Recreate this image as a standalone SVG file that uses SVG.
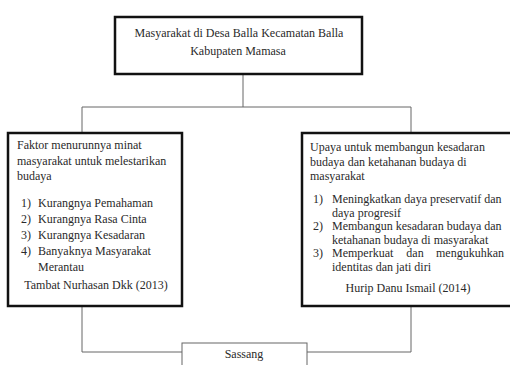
<svg xmlns="http://www.w3.org/2000/svg" width="510" height="365" viewBox="0 0 510 365">
<style>
text{font-family:"Liberation Serif","Times New Roman",serif;font-size:12px;fill:#2a2a2a}
.c{text-anchor:middle}
.e{text-anchor:end}
.box{fill:#fff;stroke:#111;stroke-width:2.5}
.thin{fill:#fff;stroke:#666;stroke-width:1}
.conn{fill:none;stroke:#666;stroke-width:1}
</style>
<rect width="510" height="365" fill="#fff"/>
<g id="connectors">
<path class="conn" d="M243,74 V107 M82,107 H411 M82,107 V133 M411,107 V133"/>
<path class="conn" d="M82,306 V352 H182 M411,306 V352 H307"/>
</g>
<g id="top">
<rect class="box" x="115" y="17" width="247" height="57"/>
<text class="c" x="239" y="37">Masyarakat di Desa Balla Kecamatan Balla</text>
<text class="c" x="238" y="55">Kabupaten Mamasa</text>
</g>
<g id="left">
<rect class="box" x="8" y="133" width="174" height="173"/>
<text x="17" y="149">Faktor menurunnya minat</text>
<text x="17" y="165">masyarakat untuk melestarikan</text>
<text x="17" y="180">budaya</text>
<text x="21" y="207">1)</text><text x="38" y="207">Kurangnya Pemahaman</text>
<text x="21" y="223">2)</text><text x="38" y="223">Kurangnya Rasa Cinta</text>
<text x="21" y="239">3)</text><text x="38" y="239">Kurangnya Kesadaran</text>
<text x="21" y="255">4)</text><text x="38" y="255">Banyaknya Masyarakat</text>
<text x="38" y="271">Merantau</text>
<text class="c" x="96" y="289">Tambat Nurhasan Dkk (2013)</text>
</g>
<g id="right">
<rect class="box" x="302" y="133" width="212" height="173"/>
<text x="310" y="151">Upaya untuk membangun kesadaran</text>
<text x="310" y="166">budaya dan ketahanan budaya di</text>
<text x="310" y="180">masyarakat</text>
<text x="313" y="203">1)</text><text x="332" y="203">Meningkatkan daya preservatif dan</text>
<text x="332" y="216.5">daya progresif</text>
<text x="313" y="230">2)</text><text x="332" y="230">Membangun kesadaran budaya dan</text>
<text x="332" y="243.5">ketahanan budaya di masyarakat</text>
<text x="313" y="257">3)</text><text x="332" y="257">Memperkuat</text><text class="c" x="415" y="257">dan</text><text class="e" x="504" y="257">mengukuhkan</text>
<text x="332" y="270.5">identitas dan jati diri</text>
<text class="c" x="408" y="292">Hurip Danu Ismail (2014)</text>
</g>
<g id="sassang">
<rect class="thin" x="182" y="343" width="125" height="30"/>
<text class="c" x="244" y="358">Sassang</text>
</g>
</svg>
